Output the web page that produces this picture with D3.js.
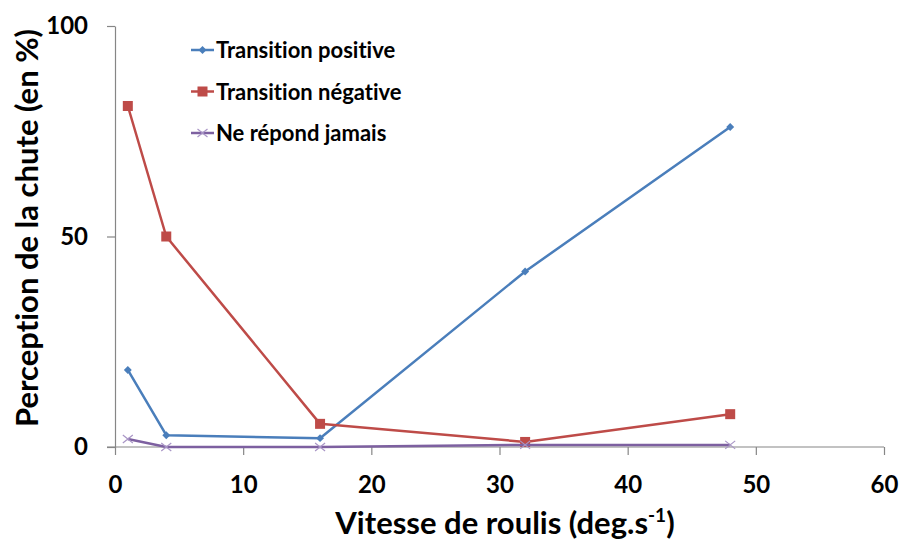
<!DOCTYPE html>
<html>
<head>
<meta charset="utf-8">
<script src="https://cdn.jsdelivr.net/npm/d3@7/dist/d3.min.js"></script>
<style>
  html, body { margin: 0; padding: 0; background: #fff; }
  svg { display: block; font-family: Lato, "Open Sans", "Liberation Sans", sans-serif; font-weight: bold;
        font-variant-ligatures: none; font-feature-settings: "liga" 0; }
</style>
</head>
<body>
<svg id="chart" width="899" height="540"></svg>
<script>
// Roll speed (deg/s) at which each group was tested
const speeds = [1, 4, 16, 32, 48];
// Percentage of fall perception per response group
const transitionPositive = [18.3, 2.8, 2.1, 41.7, 76];
const transitionNegative = [81, 50, 5.5, 1.2, 7.8];
const neRepondJamais = [1.9, 0, 0, 0.5, 0.5];

const seriesNames = ["Transition positive", "Transition négative", "Ne répond jamais"];
const seriesColors = ["#4A7EBB", "#BE4B48", "#7D60A0"];
const xTicks = [0, 10, 20, 30, 40, 50, 60];
const yTicks = [0, 50, 100];

const svg = d3.select("#chart");
const axisColor = "#868686";

const x = d3.scaleLinear().domain([0, 60]).range([115, 884]);
const y = d3.scaleLinear().domain([0, 100]).range([447, 26]);

// Axes
const xAxis = svg.append("g").attr("transform", `translate(0,${y(0)})`)
  .call(d3.axisBottom(x).tickValues(xTicks).tickSize(8).tickPadding(21).tickSizeOuter(0));
const yAxis = svg.append("g").attr("transform", `translate(${x(0)},0)`)
  .call(d3.axisLeft(y).tickValues(yTicks).tickSize(8).tickPadding(19).tickSizeOuter(0));

[xAxis, yAxis].forEach(g => {
  g.select(".domain").attr("stroke", axisColor).attr("stroke-width", 1.2);
  g.selectAll(".tick line").attr("stroke", axisColor).attr("stroke-width", 1.2);
  g.selectAll(".tick text").attr("fill", "#000").style("font-size", "24px")
    .style("font-family", "Lato, 'Open Sans', sans-serif").style("font-weight", "bold");
});
// extend the x axis line to the left end of the y ticks
xAxis.select(".domain").attr("d", `M${-8 + x(0)},0H${x(60)}`);

// Axis titles
const xTitle = svg.append("text")
  .attr("x", 505).attr("y", 534)
  .attr("text-anchor", "middle")
  .style("font-size", "31px").attr("fill", "#000");
xTitle.append("tspan").text("Vitesse de roulis (deg.s");
xTitle.append("tspan").attr("dy", -12).style("font-size", "19px").text("-1");
xTitle.append("tspan").attr("dy", 12).text(")");

svg.append("text")
  .attr("transform", `translate(38,228) rotate(-90)`)
  .attr("text-anchor", "middle")
  .style("font-size", "31px").attr("fill", "#000")
  .text("Perception de la chute (en %)");

// Series
const allSeries = [transitionPositive, transitionNegative, neRepondJamais];
const line = d3.line().x((d, i) => x(speeds[i])).y(d => y(d));

function drawMarker(g, kind, cx, cy, color) {
  if (kind === 0) {
    g.append("path").attr("d", d3.symbol(d3.symbolDiamond2, 40)())
      .attr("transform", `translate(${cx},${cy})`).attr("fill", color);
  } else if (kind === 1) {
    g.append("rect").attr("x", cx - 5).attr("y", cy - 5).attr("width", 10).attr("height", 10)
      .attr("fill", color);
  } else {
    g.append("path").attr("d", `M${cx - 5},${cy - 4}L${cx + 5},${cy + 4}M${cx - 5},${cy + 4}L${cx + 5},${cy - 4}`)
      .attr("stroke", "#A996C6").attr("stroke-width", 1.2).attr("fill", "none");
  }
}

allSeries.forEach((vals, k) => {
  const g = svg.append("g");
  g.append("path").datum(vals).attr("d", line)
    .attr("fill", "none").attr("stroke", seriesColors[k]).attr("stroke-width", 2.5)
    .attr("stroke-linejoin", "round");
  vals.forEach((v, i) => drawMarker(g, k, x(speeds[i]), y(v), seriesColors[k]));
});

// Legend
const legend = svg.append("g");
seriesNames.forEach((name, k) => {
  const cy = 50 + k * 41.5;
  legend.append("line").attr("x1", 191).attr("x2", 214).attr("y1", cy).attr("y2", cy)
    .attr("stroke", seriesColors[k]).attr("stroke-width", 2.5);
  drawMarker(legend, k, 202.5, cy, seriesColors[k]);
  legend.append("text").attr("x", 216).attr("y", cy + 8)
    .style("font-size", "22px").attr("fill", "#000").text(name);
});
</script>
</body>
</html>
